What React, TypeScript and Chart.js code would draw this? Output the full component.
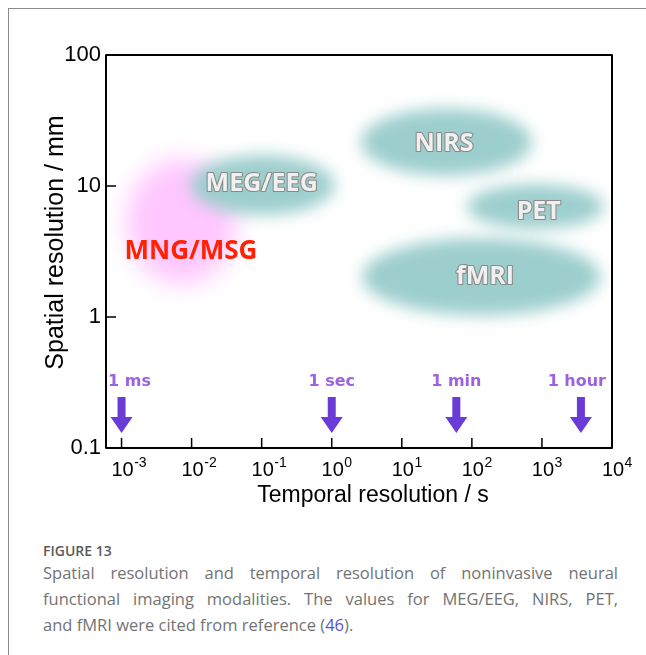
import React, { useEffect, useRef } from "react";
import { Chart, registerables } from "chart.js";

Chart.register(...registerables);

// ---- data ----
const modalities = ["MNG/MSG", "MEG/EEG", "NIRS", "PET", "fMRI"];
const timeMin = [0.0012, 0.0095, 2.6, 85, 2.7];
const timeMax = [0.043, 1.1, 720, 7600, 6800];
const spaceMin = [1.8, 6.0, 12.0, 4.7, 1.03];
const spaceMax = [16, 17.2, 39, 10.3, 4.0];
const labelTime = [0.0098, 0.1, 40, 900, 154];
const labelSpace = [3.25, 10.8, 21.7, 6.56, 2.08];

const arrowTimes = [0.001, 1, 60, 3600];
const arrowLabels = ["1 ms", "1 sec", "1 min", "1 hour"];

const xTickExponents = [-3, -2, -1, 0, 1, 2, 3, 4];
const yTickValues = [0.1, 1, 10, 100];
const yTickLabels = ["0.1", "1", "10", "100"];
const xMin = 0.000646;
const xMax = 10000;
const yMin = 0.1;
const yMax = 100;

// ---- styles ----
const TEAL = "rgb(156, 206, 205)";
const blobColors = ["#ffc6ff", TEAL, TEAL, TEAL, TEAL];
const blobBlur = [12, 8, 8, 8, 8];
const ARROW = "#6a3bd6";
const ARROW_TEXT = "#9d62e0";
const SANS = '"Liberation Sans", Arial, sans-serif';

const figurePlugin = {
  id: "figure",
  beforeDatasetsDraw(chart: any) {
    const { ctx, chartArea: a } = chart;
    const x = chart.scales.x;
    const y = chart.scales.y;
    ctx.save();
    ctx.beginPath();
    ctx.rect(a.left, a.top, a.right - a.left, a.bottom - a.top);
    ctx.clip();
    modalities.forEach((_m, i) => {
      const x0 = x.getPixelForValue(timeMin[i]);
      const x1 = x.getPixelForValue(timeMax[i]);
      const y0 = y.getPixelForValue(spaceMax[i]);
      const y1 = y.getPixelForValue(spaceMin[i]);
      ctx.filter = `blur(${blobBlur[i]}px)`;
      ctx.fillStyle = blobColors[i];
      ctx.beginPath();
      ctx.ellipse((x0 + x1) / 2, (y0 + y1) / 2, (x1 - x0) / 2, (y1 - y0) / 2, 0, 0, Math.PI * 2);
      ctx.fill();
    });
    ctx.filter = "none";
    ctx.restore();
  },
  afterDatasetsDraw(chart: any) {
    const { ctx, chartArea: a } = chart;
    const x = chart.scales.x;
    const y = chart.scales.y;
    ctx.save();

    // modality labels
    modalities.forEach((m, i) => {
      const px = x.getPixelForValue(labelTime[i]);
      const py = y.getPixelForValue(labelSpace[i]);
      ctx.textAlign = "center";
      ctx.textBaseline = "alphabetic";
      if (i === 0) {
        ctx.font = 'bold 26px "Open Sans", sans-serif';
        ctx.fillStyle = "#ff2200";
        ctx.fillText(m, px, py + 9.5);
      } else {
        ctx.font = 'bold 25px "Open Sans", sans-serif';
        ctx.lineJoin = "round";
        ctx.lineWidth = 2.2;
        ctx.strokeStyle = "#8a8a8a";
        ctx.strokeText(m, px, py + 9);
        ctx.fillStyle = "#f0f0f0";
        ctx.fillText(m, px, py + 9);
      }
    });

    // arrows
    const b = a.bottom;
    arrowTimes.forEach((t, i) => {
      const px = x.getPixelForValue(t);
      ctx.fillStyle = ARROW;
      ctx.beginPath();
      ctx.moveTo(px - 4, b - 51);
      ctx.lineTo(px + 4, b - 51);
      ctx.lineTo(px + 4, b - 31);
      ctx.lineTo(px + 11, b - 31);
      ctx.lineTo(px, b - 15);
      ctx.lineTo(px - 11, b - 31);
      ctx.lineTo(px - 4, b - 31);
      ctx.closePath();
      ctx.fill();
      ctx.font = 'bold 16px "DejaVu Sans", sans-serif';
      const w = ctx.measureText(arrowLabels[i]).width;
      let cx = px;
      if (cx - w / 2 < a.left + 2) cx = a.left + 2 + w / 2;
      if (cx + w / 2 > a.right - 6) cx = a.right - 6 - w / 2;
      ctx.fillStyle = ARROW_TEXT;
      ctx.textAlign = "center";
      ctx.textBaseline = "alphabetic";
      ctx.fillText(arrowLabels[i], cx, b - 62);
    });

    // frame
    ctx.strokeStyle = "#000";
    ctx.lineWidth = 2;
    ctx.strokeRect(a.left, a.top, a.right - a.left, a.bottom - a.top);

    // inner ticks
    ctx.lineWidth = 1.5;
    ctx.beginPath();
    xTickExponents.forEach((e) => {
      const px = x.getPixelForValue(Math.pow(10, e));
      if (px > a.left + 2 && px < a.right - 2) {
        ctx.moveTo(px, a.bottom);
        ctx.lineTo(px, a.bottom - 10);
      }
    });
    yTickValues.forEach((v) => {
      const py = y.getPixelForValue(v);
      if (py > a.top + 2 && py < a.bottom - 2) {
        ctx.moveTo(a.left, py);
        ctx.lineTo(a.left + 10, py);
      }
    });
    ctx.stroke();

    // x tick labels 10^n
    ctx.fillStyle = "#000";
    ctx.textBaseline = "alphabetic";
    xTickExponents.forEach((e) => {
      const px = x.getPixelForValue(Math.pow(10, e));
      ctx.font = `20px ${SANS}`;
      const w = ctx.measureText("10").width;
      ctx.textAlign = "center";
      ctx.fillText("10", px + 1, a.bottom + 28);
      ctx.font = `14px ${SANS}`;
      ctx.textAlign = "left";
      ctx.fillText(String(e), px + 1 + w / 2 + 0.5, a.bottom + 19);
    });

    // axis titles
    ctx.font = `23px ${SANS}`;
    ctx.textAlign = "center";
    ctx.fillText("Temporal resolution / s", (a.left + a.right) / 2 + 14, a.bottom + 54);

    ctx.save();
    ctx.font = `25px ${SANS}`;
    ctx.translate(56, (a.top + a.bottom) / 2 - 9);
    ctx.rotate(-Math.PI / 2);
    ctx.textAlign = "center";
    ctx.textBaseline = "middle";
    ctx.fillText("Spatial resolution / mm", 0, 0);
    ctx.restore();

    ctx.restore();
  },
};

export default function App() {
  const ref = useRef<HTMLCanvasElement>(null);
  useEffect(() => {
    const chart = new Chart(ref.current as HTMLCanvasElement, {
      type: "scatter",
      data: {
        datasets: [
          {
            label: "modalities",
            data: modalities.map((_m, i) => ({ x: labelTime[i], y: labelSpace[i] })),
            pointRadius: 0,
            pointHoverRadius: 0,
          },
        ],
      },
      options: {
        responsive: false,
        animation: false,
        devicePixelRatio: 1,
        events: [],
        layout: { padding: { top: 55, right: 34, left: 0, bottom: 0 } },
        plugins: { legend: { display: false }, tooltip: { enabled: false } },
        scales: {
          x: {
            type: "logarithmic",
            position: "bottom",
            min: xMin,
            max: xMax,
            grid: { display: false, drawTicks: false },
            border: { display: false },
            ticks: { display: false },
            afterFit: (s: any) => {
              s.height = 72;
            },
          },
          y: {
            type: "logarithmic",
            position: "left",
            min: yMin,
            max: yMax,
            grid: { display: false, drawTicks: false },
            border: { display: false },
            afterBuildTicks: (s: any) => {
              s.ticks = yTickValues.map((v) => ({ value: v }));
            },
            ticks: {
              autoSkip: false,
              padding: 5,
              color: "#000",
              font: { family: SANS, size: 22 },
              callback: (v: any) => {
                const idx = yTickValues.findIndex((t) => Math.abs(t - Number(v)) < 1e-9);
                return idx >= 0 ? yTickLabels[idx] : "";
              },
            },
            afterFit: (s: any) => {
              s.width = 106;
            },
          },
        },
      } as any,
      plugins: [figurePlugin],
    });
    return () => chart.destroy();
  }, []);

  const capFont = '"Open Sans", sans-serif';
  return (
    <div
      style={{
        position: "absolute",
        left: 0,
        top: 0,
        width: 646,
        height: 655,
        background: "#fff",
        overflow: "hidden",
      }}
    >
      <div
        style={{
          position: "absolute",
          left: 8,
          top: 8,
          width: 638,
          height: 647,
          borderTop: "1px solid #8c8c8c",
          borderLeft: "1px solid #8c8c8c",
          boxSizing: "border-box",
        }}
      />
      <canvas
        ref={ref}
        width={646}
        height={520}
        style={{ position: "absolute", left: 0, top: 0, width: 646, height: 520 }}
      />
      <div
        style={{
          position: "absolute",
          left: 43,
          top: 542,
          fontFamily: capFont,
          fontWeight: 600,
          fontSize: 14,
          lineHeight: "18px",
          color: "#5a5a5a",
        }}
      >
        FIGURE 13
      </div>
      <div
        style={{
          position: "absolute",
          left: 43,
          top: 560,
          width: 575,
          fontFamily: capFont,
          fontSize: 16.5,
          lineHeight: "26px",
          color: "#737373",
        }}
      >
        <div style={{ whiteSpace: "nowrap", textAlign: "justify", textAlignLast: "justify" }}>
          Spatial resolution and temporal resolution of noninvasive neural
        </div>
        <div style={{ whiteSpace: "nowrap", textAlign: "justify", textAlignLast: "justify" }}>
          functional imaging modalities. The values for MEG/EEG, NIRS, PET,
        </div>
        <div style={{ whiteSpace: "nowrap" }}>
          and fMRI were cited from reference (<span style={{ color: "#5b50d6" }}>46</span>).
        </div>
      </div>
    </div>
  );
}
